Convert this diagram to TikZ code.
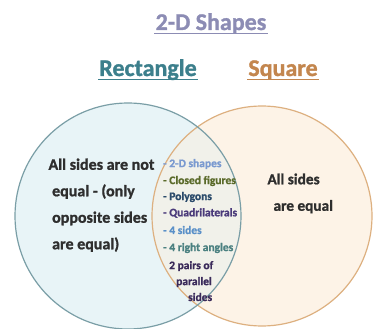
\documentclass[tikz,border=0pt]{standalone}
\usepackage{fontspec}
\setmainfont{Carlito}[BoldFeatures={FakeBold=1.2}]
\usepackage{xcolor}
\usetikzlibrary{positioning}

\definecolor{rectfill}{HTML}{E8F4F7}
\definecolor{rectedge}{HTML}{7A9EA6}
\definecolor{sqfill}{HTML}{FDF3E7}
\definecolor{sqedge}{HTML}{DDB080}
\definecolor{bothfill}{HTML}{F1F1EA}
\definecolor{titlecol}{HTML}{8C8CB4}
\definecolor{rectcol}{HTML}{3C7F8C}
\definecolor{sqcol}{HTML}{C3864E}
\definecolor{txtcol}{HTML}{2E2E2E}
\definecolor{midA}{HTML}{7A9AD0}
\definecolor{midB}{HTML}{5A6A2A}
\definecolor{midC}{HTML}{2A4A6A}
\definecolor{midD}{HTML}{4A3A7A}
\definecolor{midE}{HTML}{5A90C8}
\definecolor{midF}{HTML}{4A8080}
\definecolor{midG}{HTML}{3A2A5A}

\begin{document}
\begin{tikzpicture}[x=1pt, y=-1pt, every node/.style={font=\bfseries},
    heading/.style={font=\bfseries\fontsize{24}{26}\selectfont, inner sep=1pt}]
  \useasboundingbox (0,0) rectangle (373,329);
  % ---------- CIRCLES ----------
  \coordinate (R) at (128,216);
  \coordinate (S) at (262,216);
  \fill[sqfill] (S) circle (110);
  \fill[rectfill] (R) circle (113);
  \begin{scope}
    \clip (R) circle (113);
    \fill[bothfill] (S) circle (110);
  \end{scope}
  \draw[sqedge, line width=1.2pt] (S) circle (110);
  \draw[rectedge, line width=1.2pt] (R) circle (113);
  % ---------- HEADINGS ----------
  \node[heading, titlecol, anchor=base] (title) at (211,30) {2-D Shapes};
  \node[heading, rectcol, anchor=base] (rect) at (148,76) {Rectangle};
  \node[heading, sqcol, anchor=base] (sq) at (283,76) {Square};
  \foreach \h/\c in {title/titlecol, rect/rectcol, sq/sqcol}
    \draw[\c, line width=1.3pt] ([yshift=-3.5pt]\h.base west) -- ([yshift=-3.5pt]\h.base east);
  % ---------- LEFT ----------
  \node[txtcol, anchor=north west, align=left, font=\bfseries\fontsize{16}{26.5}\selectfont] (rtext) at (45,155)
    {All sides are not\\[0pt]\ equal - (only\\[0pt]\ opposite sides\\[0pt]\ are equal)};
  % ---------- RIGHT ----------
  \node[txtcol, anchor=north west, align=left, font=\bfseries\fontsize{15.3}{26.5}\selectfont] (stext) at (264,170)
    {All sides\\\ \,are equal};
  % ---------- MIDDLE ----------
  \begin{scope}[every node/.style={font=\bfseries\fontsize{11.5}{12}\selectfont, anchor=west, inner sep=0pt}]
    \node[midA] (m1) at (163,164) {- 2-D shapes};
    \node[midB] (m2) at (163,181) {- Closed figures};
    \node[midC] (m3) at (163,197) {- Polygons};
    \node[midD] (m4) at (163,213) {- Quadrilaterals};
    \node[midE] (m5) at (163,230) {- 4 sides};
    \node[midF] (m6) at (163,248) {- 4 right angles};
    \node[midG] (m7) at (169,266) {2 pairs of};
    \node[midG] (m8) at (176,282) {parallel};
    \node[midG] (m9) at (188,297) {sides};
  \end{scope}
\end{tikzpicture}
\end{document}
